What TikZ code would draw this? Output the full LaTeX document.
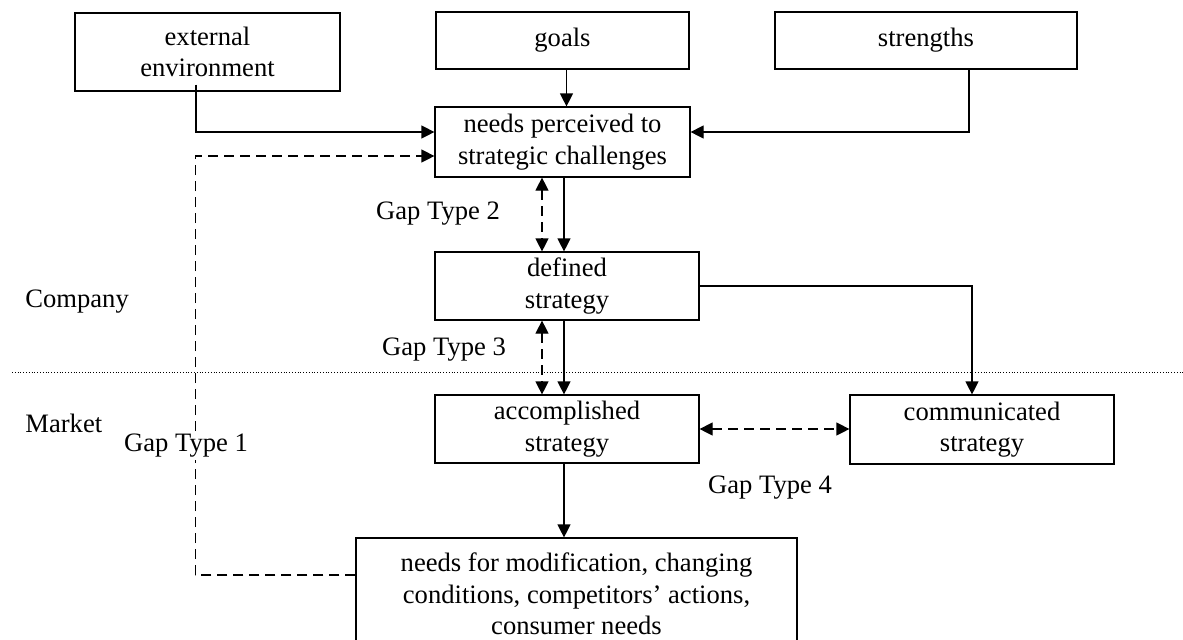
\documentclass[tikz,border=0pt]{standalone}
\usepackage{fontspec}
\setmainfont{Liberation Serif}
\usetikzlibrary{arrows.meta}
\tikzstyle{box} = [draw, line width=0.6pt, align=center, inner sep=0pt, font=\fontsize{13.3}{15.8}\selectfont]
\tikzstyle{arrow} = [line width=0.6pt,-{Triangle[length=6.5pt,width=6.5pt]}]
\tikzstyle{gaparrow} = [line width=0.6pt,dash pattern=on 5pt off 3pt,{Triangle[length=6.5pt,width=6.5pt]}-{Triangle[length=6.5pt,width=6.5pt]}]
\tikzstyle{gaptext} = [inner sep=1pt, font=\fontsize{13.3}{15.8}\selectfont]

\begin{document}
\begin{tikzpicture}[x=0.5pt,y=-0.5pt]
    \useasboundingbox (0,0) rectangle (1183,639);
    % boxes
    \node[box, minimum width=132.5pt, minimum height=39pt] (ext) at (207.5,52) {external\\environment};
    \node[box, minimum width=126.5pt, minimum height=28.5pt] (goals) at (562.5,40.5) {goals};
    \node[box, minimum width=151pt, minimum height=28.5pt] (strengths) at (926,40.5) {strengths};
    \node[box, minimum width=127.5pt, minimum height=35pt] (perc) at (562.5,142) {needs perceived to\\strategic challenges};
    \node[box, minimum width=132pt, minimum height=34pt] (def) at (567,286) {defined\\strategy};
    \node[box, minimum width=132pt, minimum height=34pt] (acc) at (567,429) {accomplished\\strategy};
    \node[box, minimum width=132pt, minimum height=34.5pt] (comm) at (982,429.5) {communicated\\strategy};
    \node[box, minimum width=220.5pt, minimum height=56pt] (mod) at (576.5,594) {needs for modification, changing\\conditions, competitors' actions,\\consumer needs};
    \coordinate (solid) at (564,0);
    \coordinate (gap) at (542,0);

    % company / market
    \draw[line width=0.4pt, densely dotted] (12,372) -- (1183,372);
    \node[gaptext, anchor=west] (company) at (23,302) {Company};
    \node[gaptext, anchor=west] (market) at (23,423) {Market};

    % inputs
    \draw[arrow] ([xshift=-5.75pt,yshift=3.5pt]ext.south) |- ([yshift=5pt]perc.west);
    \draw[arrow] ([xshift=2pt]goals.south) -- ([xshift=2pt]perc.north);
    \draw[arrow] ([xshift=21.5pt]strengths.south) |- ([yshift=5pt]perc.east);
    \draw[arrow, dash pattern=on 5pt off 3pt] ([yshift=9.5pt]mod.west) -- ++(-160,0) |- ([yshift=-7pt]perc.west);
    \node[gaptext, fill=white] (gap1) at (186,446) {Gap Type 1};

    % strategy chain
    \draw[arrow] (perc.south -| solid) -- (def.north -| solid);
    \draw[gaparrow] (perc.south -| gap) -- (def.north -| gap);
    \node[gaptext] (gap2) at (438,214) {Gap Type 2};
    \draw[arrow] (def.south -| solid) -- (acc.north -| solid);
    \draw[gaparrow] (def.south -| gap) -- (acc.north -| gap);
    \node[gaptext] (gap3) at (444,350) {Gap Type 3};
    \draw[arrow] (acc.south -| solid) -- (mod.north -| solid);
    \draw[arrow] (def.east) -| ([xshift=-5pt]comm.north);
    \draw[gaparrow] (acc.east) -- (acc.east -| comm.west);
    \node[gaptext] (gap4) at (770,488) {Gap Type 4};
\end{tikzpicture}
\end{document}
